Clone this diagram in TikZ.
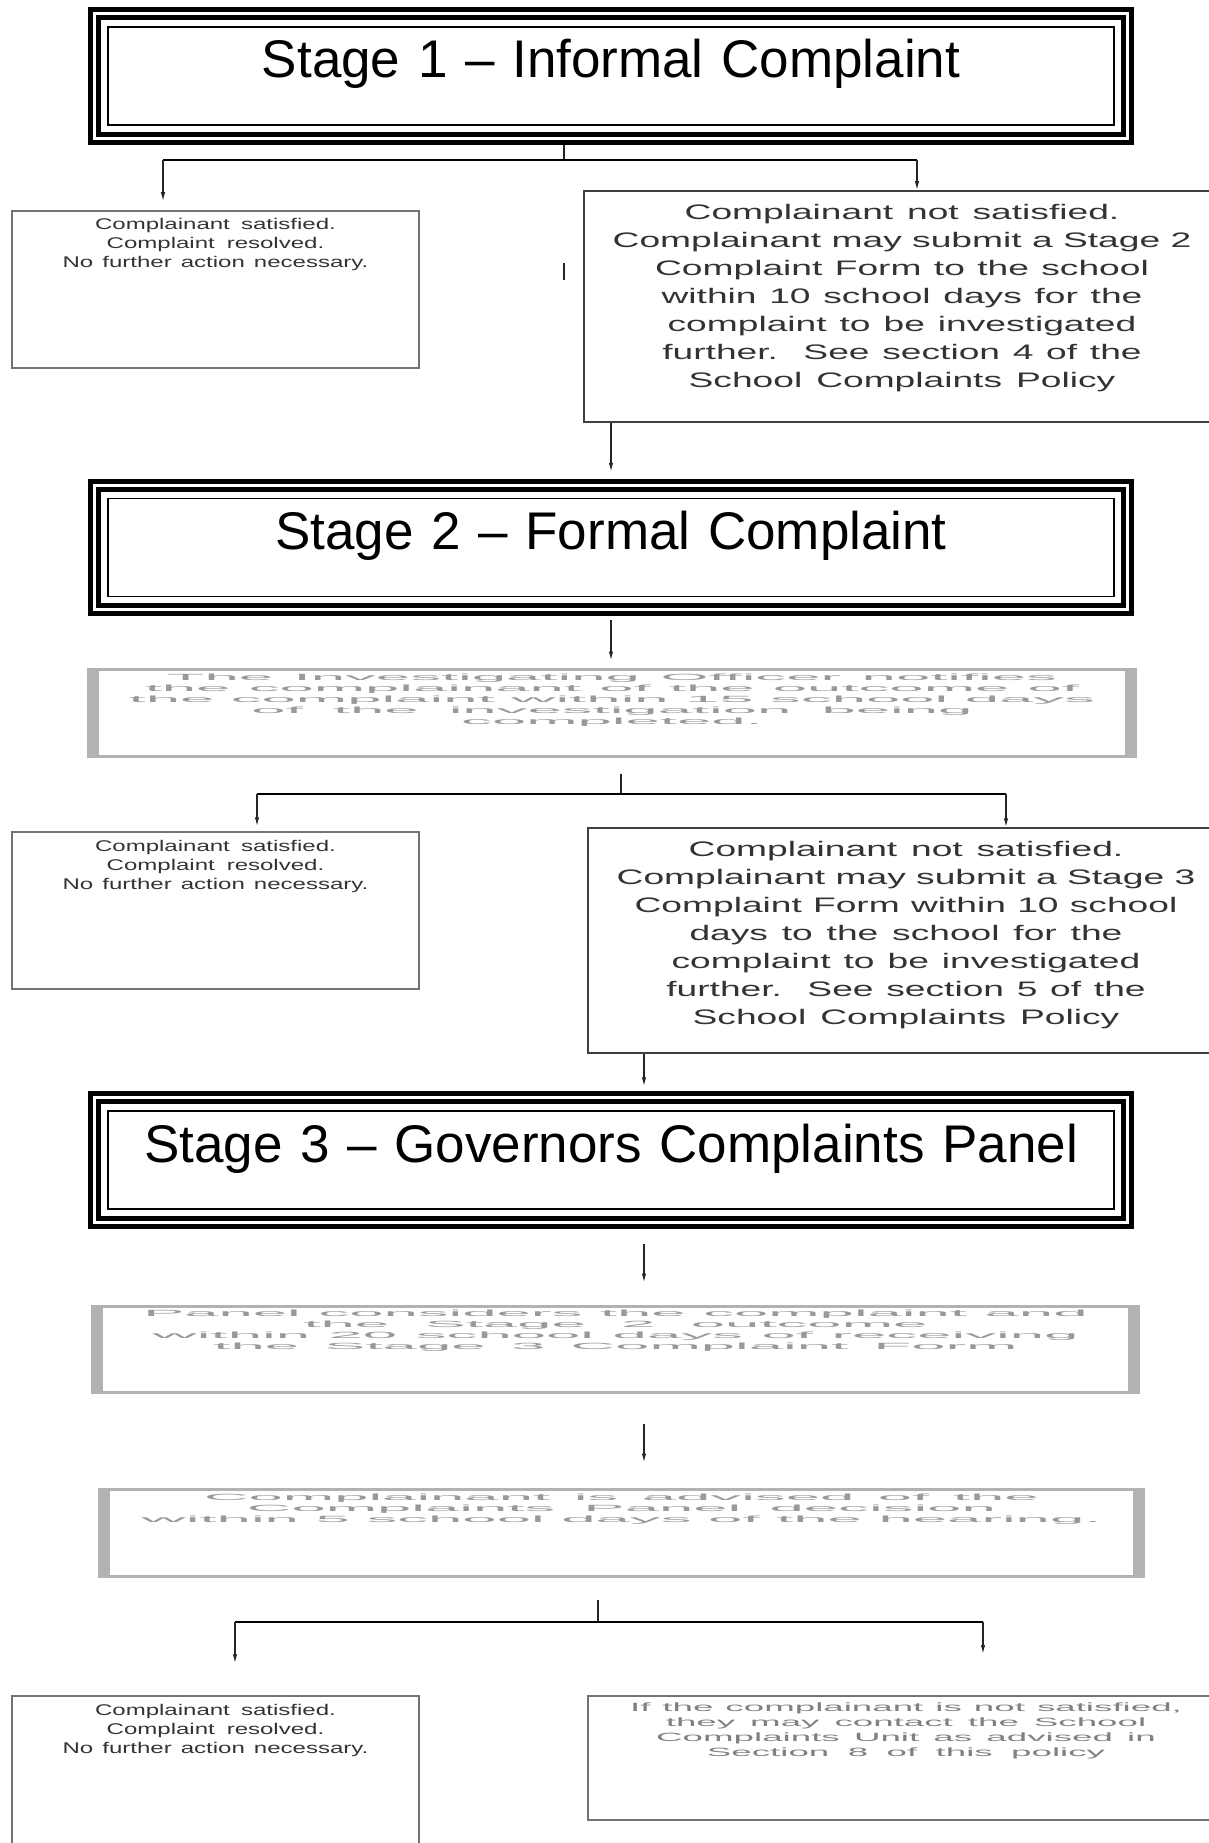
\documentclass[tikz,border=0pt]{standalone}
\usepackage{fontspec}
\setmainfont{Liberation Sans}
\newfontfamily\okfont[FakeStretch=1.55]{Liberation Sans}
\newfontfamily\nofont[FakeStretch=1.77]{Liberation Sans}
\newfontfamily\notefont[FakeStretch=3.06]{Liberation Sans}
\newfontfamily\blurfont[FakeStretch=6.85]{Liberation Sans}
\usetikzlibrary{positioning}
\usetikzlibrary{calc}
\usetikzlibrary{arrows.meta}
\tikzset{>={Latex[length=9pt,width=4.5pt]}}
\tikzstyle{stagebox}=[draw=black,line width=1.5pt,shape=rectangle,inner sep=0pt,text width=1006pt,align=center,text height=51pt,text depth=47pt,font=\fontsize{53}{60}\selectfont]
\tikzstyle{stageframe}=[draw=black,line width=5pt,double=white,double distance=3pt]
\tikzstyle{okbox}=[draw=black!55,line width=1.5pt,shape=rectangle,inner sep=0pt,text width=407pt,align=center,text height=19pt,text depth=138pt,text=black!80,font={\okfont\fontsize{15.5}{19}\selectfont},execute at begin node={\spaceskip=5.8pt plus 2pt minus 1pt}]
\tikzstyle{nobox}=[draw=black!75,line width=1.5pt,shape=rectangle,inner sep=0pt,text width=636pt,align=center,text=black!80,font={\nofont\fontsize{21}{28}\selectfont},execute at begin node={\spaceskip=9pt plus 2pt minus 1pt}]
\tikzstyle{blurbox}=[draw=black!30,line width=3pt,shape=rectangle,inner sep=0pt,align=center,text=black!40,font={\blurfont\fontsize{9}{11}\selectfont},execute at begin node={\spaceskip=12pt plus 2pt minus 1pt}]
\tikzstyle{notebox}=[draw=black!55,line width=2pt,shape=rectangle,inner sep=0pt,text width=636pt,align=center,text height=15pt,text depth=109pt,text=black!50,font={\notefont\fontsize{12}{15}\selectfont},execute at begin node={\spaceskip=8.5pt plus 2pt minus 1pt}]
\tikzstyle{sidebar}=[draw=black!30,line width=12pt]
\tikzstyle{stem}=[line width=1.5pt,color=black!85]
\tikzstyle{bar}=[line width=2.5pt,color=black]
\tikzstyle{link}=[->,line width=1.3pt,color=black!85]

\begin{document}
\begin{tikzpicture}[x=1pt,y=-1pt]

	\useasboundingbox (0,0) rectangle (1209,1843);

	% Stage 1
	\node[stagebox] (s1) at (611, 76) {Stage 1 – Informal Complaint};
	\node[okbox] (ok1) at (215.5, 289.5) {Complainant satisfied.\\Complaint resolved.\\No further action necessary.};
	\node[nobox, text height=29pt, text depth=202pt] (no1) at (902, 306.5) {Complainant not satisfied.\\Complainant may submit a Stage 2\\Complaint Form to the school\\within 10 school days for the\\complaint to be investigated\\further.\ \ See section 4 of the\\School Complaints Policy};
	\coordinate (j1) at (564, 160);
	\coordinate (j1l) at (163, 160);
	\coordinate (j1r) at (917, 160);
	\draw[stem, shorten <=18pt] (s1.south -| j1) -- (j1);
	\draw[bar] (j1l) -- (j1r);
	\draw[link, shorten >=9pt] (j1l) -- (ok1.north -| j1l);
	\draw[link] (j1r) -- (no1.north -| j1r);
	\coordinate (t1) at (564, 263);
	\coordinate (t2) at (564, 280);
	\draw[stem] (t1) -- (t2);

	% Stage 2
	\node[stagebox] (s2) at (611, 547.5) {Stage 2 – Formal Complaint};
	\draw[link, shorten >=26pt] (no1.south -| s2.north) -- (s2.north);
	\node[blurbox, text width=1047pt, text height=11pt, text depth=76pt] (inv) at (612, 713) {The Investigating Officer notifies\\the complainant of the outcome of\\the complaint within 15 school days\\of the investigation being\\completed.};
	\draw[link, shorten <=23pt, shorten >=7.5pt] (s2.south) -- (s2.south |- inv.north);
	\node[okbox] (ok2) at (215.5, 910.5) {Complainant satisfied.\\Complaint resolved.\\No further action necessary.};
	\node[nobox, text height=28pt, text depth=197pt] (no2) at (906, 940.5) {Complainant not satisfied.\\Complainant may submit a Stage 3\\Complaint Form within 10 school\\days to the school for the\\complaint to be investigated\\further.\ \ See section 5 of the\\School Complaints Policy};
	\coordinate (j2) at (621, 794);
	\coordinate (j2l) at (257, 794);
	\coordinate (j2r) at (1006, 794);
	\draw[stem, shorten <=15.5pt] (inv.south -| j2) -- (j2);
	\draw[bar] (j2l) -- (j2r);
	\draw[link, shorten >=5pt] (j2l) -- (ok2.north -| j2l);
	\draw[link] (j2r) -- (no2.north -| j2r);

	% Stage 3
	\node[stagebox] (s3) at (611, 1160) {Stage 3 – Governors Complaints Panel};
	\coordinate (v3) at (644, 1087);
	\draw[link, shorten >=24pt] (no2.south -| v3) -- (s3.north -| v3);
	\node[blurbox, text width=1046pt, text height=10pt, text depth=76pt] (panel) at (615.5, 1349.5) {Panel considers the complaint and\\the Stage 2 outcome\\within 20 school days of receiving\\the Stage 3 Complaint Form};
	\node[blurbox, text width=1044pt, text height=11pt, text depth=76pt] (told) at (621.5, 1533) {Complainant is advised of the\\Complaints Panel decision\\within 5 school days of the hearing.};
	\draw[link, shorten <=34pt, shorten >=22.5pt] (s3.south -| v3) -- (panel.north -| v3);
	\draw[link, shorten <=29.5pt, shorten >=25.5pt] (panel.south -| v3) -- (told.north -| v3);
	\node[okbox] (ok3) at (215.5, 1774.5) {Complainant satisfied.\\Complaint resolved.\\No further action necessary.};
	\node[notebox] (note) at (906, 1758) {If the complainant is not satisfied,\\they may contact the School\\Complaints Unit as advised in\\Section 8 of this policy};
	\coordinate (j4) at (598, 1622);
	\coordinate (j4l) at (235, 1622);
	\coordinate (j4r) at (983, 1622);
	\draw[stem, shorten <=21.5pt] (told.south -| j4) -- (j4);
	\draw[bar] (j4l) -- (j4r);
	\draw[link, shorten >=32pt] (j4l) -- (ok3.north -| j4l);
	\draw[link, shorten >=41pt] (j4r) -- (note.north -| j4r);

	% frames
	\foreach \s in {s1,s2,s3}
		\draw[stageframe] ($(\s.north west)+(-12.5,-12.5)$) rectangle ($(\s.south east)+(12.5,12.5)$);
	\foreach \b in {inv,panel,told} {
		\draw[sidebar] ([xshift=6pt]\b.north west) -- ([xshift=6pt]\b.south west);
		\draw[sidebar] ([xshift=-6pt]\b.north east) -- ([xshift=-6pt]\b.south east);
	}

\end{tikzpicture}
\end{document}
